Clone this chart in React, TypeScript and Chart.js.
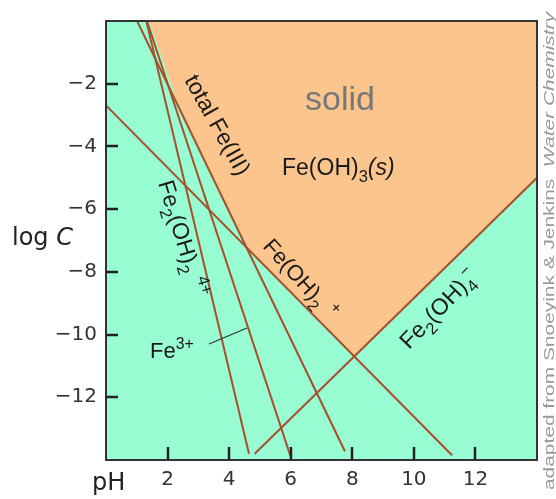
import React, { useEffect, useRef } from 'react';
import { Chart, registerables } from 'chart.js';

Chart.register(...registerables);

// ---- axes ----
const xMin = 0;
const xMax = 14;
const yMin = -14;
const yMax = 0;
const xTickValues = [2, 4, 6, 8, 10, 12];
const yTickValues = [-2, -4, -6, -8, -10, -12];
const xTickLabels = ['2', '4', '6', '8', '10', '12'];
const yTickLabels = ['\u22122', '\u22124', '\u22126', '\u22128', '\u221210', '\u221212'];

// ---- species lines (pH, log C) ----
const fe2OH2_pH = [1.31, 4.645];
const fe2OH2_logC = [0, -13.8];
const fe3_pH = [1.33, 6.0];
const fe3_logC = [0, -13.9];
const feOH_pH = [1.01, 7.76];
const feOH_logC = [0, -13.72];
const feOH2_pH = [0, 11.24];
const feOH2_logC = [-2.69, -13.85];
const feOH4_pH = [4.83, 14];
const feOH4_logC = [-13.8, -5.0];

// ---- boundary of the solid region (total Fe(III)) ----
const solid_pH = [1.4, 1.65, 1.9, 2.1, 2.3, 2.5, 3.0, 3.5, 4.0, 4.3, 4.56, 4.8, 8.07, 14];
const solid_logC = [0, -0.7, -1.42, -2.0, -2.6, -3.03, -4.05, -5.06, -6.08, -6.67, -7.13, -7.46, -10.7, -5.0];

const GREEN = '#98FDD2';
const ORANGE = '#FBC58D';
const BROWN = '#A6502B';
const ANN_FONT = '"Liberation Sans", Arial, sans-serif';
const AX_FONT = '"DejaVu Sans", sans-serif';

const pts = (xs: number[], ys: number[]) => xs.map((x, i) => ({ x, y: ys[i] }));

type Seg = { t: string; s?: 'sub' | 'sup'; i?: boolean; gap?: number };

function drawRich(
  ctx: CanvasRenderingContext2D,
  x: number,
  y: number,
  angle: number,
  size: number,
  segs: Seg[],
  color: string,
  family: string
) {
  ctx.save();
  ctx.translate(x, y);
  ctx.rotate((angle * Math.PI) / 180);
  ctx.fillStyle = color;
  ctx.textBaseline = 'alphabetic';
  ctx.textAlign = 'left';
  let cx = 0;
  for (const sg of segs) {
    const fs = sg.s ? size * 0.72 : size;
    ctx.font = `${sg.i ? 'italic ' : ''}${fs}px ${family}`;
    const dy = sg.s === 'sub' ? size * 0.3 : sg.s === 'sup' ? -size * 0.42 : 0;
    cx += sg.gap || 0;
    ctx.fillText(sg.t, cx, dy);
    cx += ctx.measureText(sg.t).width;
  }
  ctx.restore();
}

const bgPlugin = {
  id: 'bgPlugin',
  beforeDatasetsDraw(chart: any) {
    const { ctx, chartArea } = chart;
    ctx.save();
    ctx.fillStyle = GREEN;
    ctx.fillRect(chartArea.left, chartArea.top, chartArea.right - chartArea.left, chartArea.bottom - chartArea.top);
    ctx.restore();
  },
};

const overlayPlugin = {
  id: 'overlayPlugin',
  afterDatasetsDraw(chart: any) {
    const { ctx, chartArea } = chart;
    const xs = chart.scales.x;
    const ys = chart.scales.y;
    ctx.save();
    // frame
    ctx.strokeStyle = '#333';
    ctx.lineWidth = 2;
    ctx.strokeRect(chartArea.left, chartArea.top, chartArea.right - chartArea.left, chartArea.bottom - chartArea.top);
    // inward ticks
    ctx.strokeStyle = '#222';
    ctx.lineWidth = 2.5;
    for (const v of xTickValues) {
      const px = Math.round(xs.getPixelForValue(v));
      ctx.beginPath();
      ctx.moveTo(px, chartArea.bottom);
      ctx.lineTo(px, chartArea.bottom - 13);
      ctx.stroke();
    }
    for (const v of yTickValues) {
      const py = Math.round(ys.getPixelForValue(v));
      ctx.beginPath();
      ctx.moveTo(chartArea.left, py);
      ctx.lineTo(chartArea.left + 12, py);
      ctx.stroke();
    }
    // Fe3+ pointer
    ctx.strokeStyle = '#2a3a3a';
    ctx.lineWidth = 1.2;
    ctx.beginPath();
    ctx.moveTo(209, 344);
    ctx.lineTo(247, 328);
    ctx.stroke();
    ctx.restore();

    const black = '#1a1a1a';
    drawRich(ctx, 305, 110, 0, 34, [{ t: 'solid' }], '#777', ANN_FONT);
    drawRich(ctx, 282, 175, 0, 23, [{ t: 'Fe(OH)' }, { t: '3', s: 'sub' }, { t: '(s)', i: true }], black, ANN_FONT);
    drawRich(ctx, 184, 80, 61, 23, [{ t: 'total Fe(III)' }], black, ANN_FONT);
    drawRich(
      ctx,
      158,
      183,
      73,
      23,
      [{ t: 'Fe' }, { t: '2', s: 'sub' }, { t: '(OH)' }, { t: '2', s: 'sub' }, { t: '4+', s: 'sup', gap: 7 }],
      black,
      ANN_FONT
    );
    drawRich(ctx, 150, 358, 0, 22, [{ t: 'Fe' }, { t: '3+', s: 'sup' }], black, ANN_FONT);
    drawRich(
      ctx,
      262,
      247,
      48,
      22,
      [{ t: 'Fe(OH)' }, { t: '2', s: 'sub' }, { t: '+', s: 'sup', gap: 8 }],
      black,
      ANN_FONT
    );
    drawRich(
      ctx,
      409,
      350,
      -46,
      23,
      [{ t: 'Fe' }, { t: '2', s: 'sub' }, { t: '(OH)' }, { t: '4', s: 'sub' }, { t: '\u2212', s: 'sup', gap: -4 }],
      black,
      ANN_FONT
    );

    // axis titles
    drawRich(ctx, 12, 245, 0, 24, [{ t: 'log ' }, { t: 'C', i: true }], '#222', AX_FONT);
    drawRich(ctx, 92, 490, 0, 24, [{ t: 'pH' }], '#222', AX_FONT);

    // side credit
    ctx.save();
    ctx.translate(554, 490);
    ctx.rotate(-Math.PI / 2);
    ctx.fillStyle = '#9a9a9a';
    ctx.textBaseline = 'alphabetic';
    ctx.font = `14px ${ANN_FONT}`;
    const a = 'adapted from Snoeyink & Jenkins  ';
    const wa = ctx.measureText(a).width;
    ctx.font = `italic 14px ${ANN_FONT}`;
    const b = 'Water Chemistry';
    const wb = ctx.measureText(b).width;
    const k = 478 / (wa + wb);
    ctx.scale(k, 1);
    ctx.font = `14px ${ANN_FONT}`;
    ctx.fillText(a, 0, 0);
    ctx.font = `italic 14px ${ANN_FONT}`;
    ctx.fillText(b, wa, 0);
    ctx.restore();
  },
};

export default function App() {
  const ref = useRef<HTMLCanvasElement | null>(null);
  useEffect(() => {
    if (!ref.current) return;
    const lineDs = (label: string, xsArr: number[], ysArr: number[]) => ({
      label,
      data: pts(xsArr, ysArr),
      showLine: true,
      borderColor: BROWN,
      borderWidth: 2,
      pointRadius: 0,
      fill: false,
      order: 0,
    });
    const chart = new Chart(ref.current, {
      type: 'scatter',
      data: {
        datasets: [
          lineDs('Fe2(OH)2 4+', fe2OH2_pH, fe2OH2_logC),
          lineDs('Fe3+', fe3_pH, fe3_logC),
          lineDs('FeOH2+', feOH_pH, feOH_logC),
          lineDs('Fe(OH)2+', feOH2_pH, feOH2_logC),
          lineDs('Fe(OH)4-', feOH4_pH, feOH4_logC),
          {
            label: 'solid',
            data: pts(solid_pH, solid_logC),
            showLine: true,
            borderWidth: 0,
            borderColor: 'rgba(0,0,0,0)',
            backgroundColor: ORANGE,
            pointRadius: 0,
            fill: 'end',
            order: 1,
          } as any,
        ],
      },
      options: {
        animation: false,
        responsive: false,
        maintainAspectRatio: false,
        events: [],
        layout: { padding: { top: 13, right: 19, left: 0, bottom: 0 } },
        plugins: {
          legend: { display: false },
          tooltip: { enabled: false },
        },
        scales: {
          x: {
            type: 'linear',
            min: xMin,
            max: xMax,
            afterBuildTicks: (s: any) => {
              s.ticks = xTickValues.map((v) => ({ value: v }));
            },
            afterFit: (s: any) => {
              s.height = 39;
            },
            grid: { display: false, drawTicks: false },
            border: { display: false },
            ticks: {
              padding: 8,
              color: '#333',
              font: { family: AX_FONT, size: 20 },
              maxRotation: 0,
              autoSkip: false,
              callback: (v: any) => {
                const i = xTickValues.indexOf(Number(v));
                return i >= 0 ? xTickLabels[i] : '';
              },
            },
          },
          y: {
            type: 'linear',
            min: yMin,
            max: yMax,
            afterBuildTicks: (s: any) => {
              s.ticks = yTickValues.map((v) => ({ value: v }));
            },
            afterFit: (s: any) => {
              s.width = 106;
            },
            grid: { display: false, drawTicks: false },
            border: { display: false },
            ticks: {
              padding: 9,
              color: '#333',
              font: { family: AX_FONT, size: 20 },
              autoSkip: false,
              callback: (v: any) => {
                const i = yTickValues.indexOf(Number(v));
                return i >= 0 ? yTickLabels[i] : '';
              },
            },
          },
        },
      } as any,
      plugins: [bgPlugin, overlayPlugin],
    });
    return () => chart.destroy();
  }, []);
  return (
    <div style={{ position: 'fixed', left: 0, top: 0, width: 556, height: 499, background: '#fff' }}>
      <canvas ref={ref} width={556} height={499} style={{ width: 556, height: 499, display: 'block' }} />
    </div>
  );
}
